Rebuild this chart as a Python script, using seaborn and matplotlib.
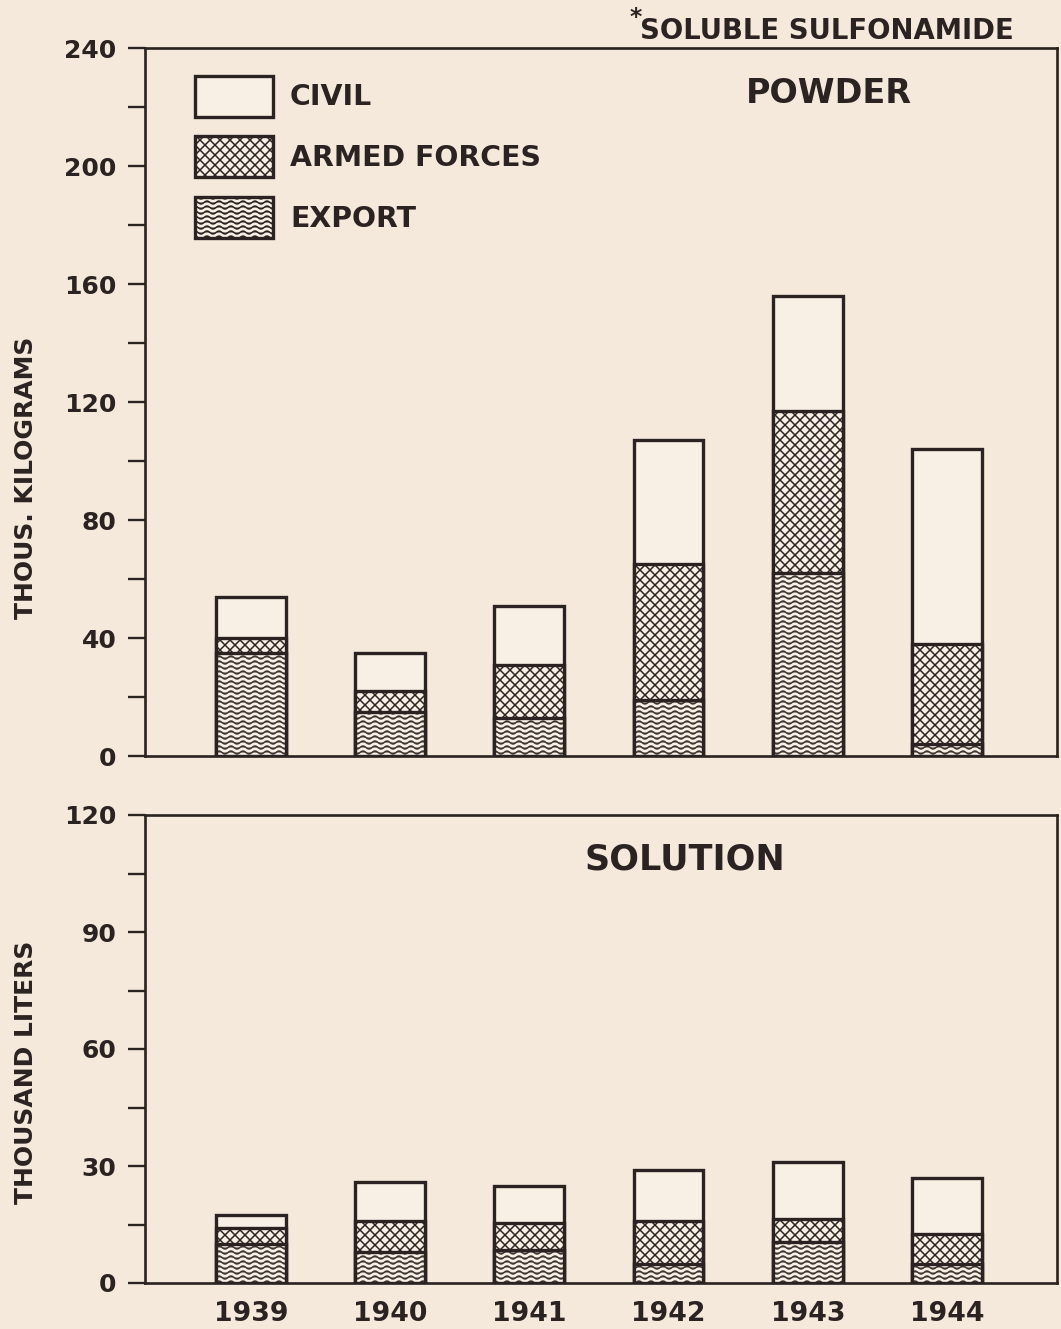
import warnings
import numpy as np
import matplotlib
matplotlib.use('Agg')
import matplotlib.pyplot as plt
import matplotlib.hatch as mhatch
from matplotlib.path import Path
import seaborn as sns

warnings.filterwarnings('ignore')

# data
years = ['1939', '1940', '1941', '1942', '1943', '1944']
categories = ['CIVIL', 'ARMED FORCES', 'EXPORT']
powder_export = [35, 15, 13, 19, 62, 4]
powder_armed = [5, 7, 18, 46, 55, 34]
powder_civil = [14, 13, 20, 42, 39, 66]
solution_export = [10, 8, 8.5, 5, 10.5, 5]
solution_armed = [4, 8, 7, 11, 6, 7.5]
solution_civil = [3.5, 10, 9.5, 13, 14.5, 14.5]

paper = '#f5e9dc'
light = '#f8efe5'
ink = '#2b2321'
wave_ink = '#3d3531'


# matplotlib has no wavy hatch, so register one for '~'
class WaveHatch(mhatch.HatchPatternBase):
    def __init__(self, hatch, density):
        self.num_lines = int(hatch.count('~') * density)
        self.npts = 121
        self.num_vertices = self.num_lines * self.npts

    def set_vertices_and_codes(self, vertices, codes):
        xs = np.linspace(0.0, 1.0, self.npts)
        for i in range(self.num_lines):
            y0 = (i + 0.5) / self.num_lines
            sl = slice(i * self.npts, (i + 1) * self.npts)
            vertices[sl, 0] = xs
            vertices[sl, 1] = y0 + 0.0125 * np.sin(2 * np.pi * 10 * xs)
            codes[sl] = Path.LINETO
            codes[i * self.npts] = Path.MOVETO


mhatch._hatch_types.append(WaveHatch)

sns.set_style('white')
plt.rcParams['font.family'] = ['DejaVu Sans']
plt.rcParams['font.weight'] = 'bold'
plt.rcParams['hatch.linewidth'] = 0.9
plt.rcParams['text.color'] = ink

W, H = 1061, 1329
fig = plt.figure(figsize=(W / 120, H / 120), dpi=120, facecolor=paper)
ax1 = fig.add_axes([145 / W, 1 - 756 / H, 912 / W, 708 / H])
ax2 = fig.add_axes([145 / W, 1 - 1283 / H, 912 / W, 468 / H])


def stacked(ax, export, armed, civil):
    export = np.array(export, float)
    mid = export + np.array(armed, float)
    top = mid + np.array(civil, float)
    # cumulative heights, drawn back to front
    sns.barplot(x=years, y=top, color=light, saturation=1, edgecolor=ink,
                linewidth=2.0, width=0.5, ax=ax)
    sns.barplot(x=years, y=mid, color=light, saturation=1, edgecolor=ink,
                linewidth=2.0, width=0.5, hatch='xxxx', ax=ax)
    # wave hatch takes its colour from the edge, so outline it again after
    sns.barplot(x=years, y=export, color=light, saturation=1, edgecolor=wave_ink,
                linewidth=0, width=0.5, hatch='~~~~', ax=ax)
    sns.barplot(x=years, y=export, fill=False, edgecolor=ink,
                linewidth=2.0, width=0.5, ax=ax)


stacked(ax1, powder_export, powder_armed, powder_civil)
stacked(ax2, solution_export, solution_armed, solution_civil)

for ax in (ax1, ax2):
    ax.set_facecolor(paper)
    ax.set_xlim(-0.76, 5.79)
    ax.set_xlabel('')
    for s in ax.spines.values():
        s.set_visible(True)
        s.set_color(ink)
        s.set_linewidth(1.6)
    ax.tick_params(axis='y', which='both', direction='out', length=10, width=1.4,
                   color=ink, labelcolor=ink, labelsize=15, pad=7, left=True)

ax1.set_ylim(0, 240)
ax1.set_yticks(range(0, 241, 40))
ax1.set_yticks(range(20, 240, 40), minor=True)
ax1.tick_params(axis='x', bottom=False, labelbottom=False)
ax1.set_ylabel('THOUS. KILOGRAMS', fontsize=15, fontweight='bold', color=ink)
ax1.yaxis.set_label_coords(-0.117, 0.393)

ax2.set_ylim(0, 120)
ax2.set_yticks(range(0, 121, 30))
ax2.set_yticks(range(15, 120, 30), minor=True)
ax2.tick_params(axis='x', length=0, labelsize=16, pad=11, labelcolor=ink)
ax2.set_ylabel('THOUSAND LITERS', fontsize=15, fontweight='bold', color=ink)
ax2.yaxis.set_label_coords(-0.117, 0.451)

# legend handles: one bar from each layer
handles = [ax1.containers[0][0], ax1.containers[1][0], ax1.containers[2][0]]
leg = ax1.legend(handles, categories, loc='upper left', bbox_to_anchor=(0.055, 0.961),
                 frameon=False, fontsize=17, handlelength=2.75, handleheight=1.85,
                 labelspacing=0.7, handletextpad=0.6, borderaxespad=0, borderpad=0)
# export handle gets its dark outline back
for p in leg.get_patches()[2:]:
    p.set_linewidth(2.0)
    p.set_edgecolor(ink)

ax1.text(0.75, 0.936, 'POWDER', transform=ax1.transAxes, ha='center', va='center',
         fontsize=20, fontweight='bold')
ax2.text(0.592, 0.904, 'SOLUTION', transform=ax2.transAxes, ha='center', va='center',
         fontsize=21, fontweight='bold')
fig.text(640 / W, 1 - 31 / H, 'SOLUBLE SULFONAMIDE', ha='left', va='center',
         fontsize=16.5, fontweight='bold')
fig.text(636 / W, 1 - 18 / H, '*', ha='center', va='center', fontsize=14, fontweight='bold')

fig.savefig('out.png', dpi=120, facecolor=paper)
